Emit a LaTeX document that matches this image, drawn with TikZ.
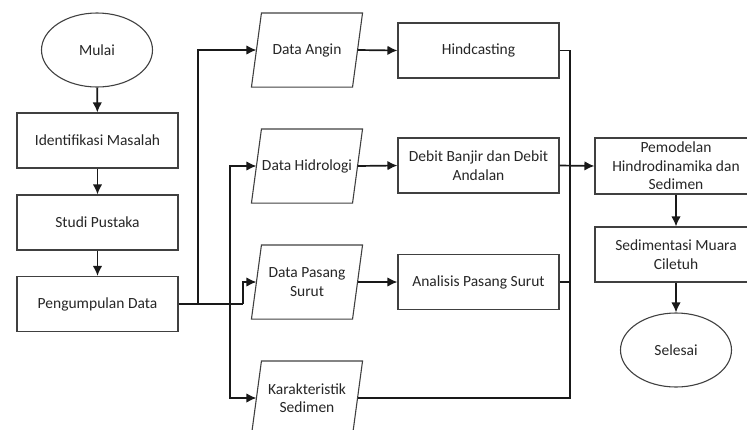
\documentclass[tikz,border=0pt]{standalone}
\usepackage{fontspec}
\setmainfont{Carlito}
\usetikzlibrary{shapes.geometric,arrows.meta}
\begin{document}
\begin{tikzpicture}[x=1pt,y=-1pt,
  base/.style={draw=black!75,line width=1.1pt,text=black!85,align=center,inner sep=2pt,
    font=\fontsize{15.5}{18.5}\selectfont},
  box/.style={base,rectangle,minimum width=161pt,minimum height=55pt},
  term/.style={base,ellipse,minimum width=111pt,minimum height=74pt},
  io/.style={base,draw=none,rectangle,minimum width=100pt,minimum height=73pt},
  outline/.style={draw=black!75,line width=1.1pt},
  conn/.style={line width=1.7pt,black!90},
  arr/.style={conn,-{Latex[length=10pt,width=9.5pt]}}]
\useasboundingbox (0,0) rectangle (747,429);
\begin{scope}
\clip (0,0) rectangle (747,429);
\node[term] (mulai) at (97,50) {Mulai};
\node[box] (im) at (97.5,140.5) {Identifikasi Masalah};
\node[box] (sp) at (97.5,222.5) {Studi Pustaka};
\node[box] (pd) at (97.5,304) {Pengumpulan Data};
\node[io] (dA) at (307,50) {Data Angin};
\node[io] (dH) at (307,166) {Data Hidrologi};
\node[io] (dP) at (307,282) {Data Pasang\\Surut};
\node[io] (dK) at (307,398) {Karakteristik\\Sedimen};
\foreach \n in {dA,dH,dP,dK}
  \draw[outline] ([xshift=5pt]\n.north west) -- ([xshift=5pt]\n.north east)
    -- ([xshift=-5pt]\n.south east) -- ([xshift=-5pt]\n.south west) -- cycle;
\node[box] (hc) at (478.5,50.5) {Hindcasting};
\node[box] (db) at (478.5,165.5) {Debit Banjir dan Debit\\Andalan};
\node[box] (ap) at (478.5,282) {Analisis Pasang Surut};
\node[box,minimum width=162pt,minimum height=56pt] (pem) at (676,166) {Pemodelan\\Hindrodinamika dan\\Sedimen};
\node[box,minimum width=162pt] (sm) at (676,254.5) {Sedimentasi Muara\\Ciletuh};
\node[term] (sel) at (676,350) {Selesai};

\coordinate (j1) at (198,304);
\coordinate (j2) at (230,304);
\coordinate (j3) at (243,304);
\coordinate (c1) at (570,50.5);
\coordinate (c2) at (570,398);

\draw[arr] (mulai) -- (im);
\draw[arr] (im) -- (sp);
\draw[arr] (sp) -- (pd);
\draw[conn] (pd.east) -- (j3);
\draw[arr] (j3) |- (dP.west);
\draw[arr] (j1) |- (dA.west);
\draw[arr] (j2) |- (dH.west);
\draw[arr] (j2) |- (dK.west);
\draw[arr] (dA.east) -- (hc.west);
\draw[arr] (dH.east) -- (db.west);
\draw[arr] (dP.east) -- (ap.west);
\draw[conn] (hc.east) -- (c1) -- (c2) -- (dK.east);
\draw[conn] (ap.east) -- (ap.east -| c1);
\draw[arr] (db.east) -- (pem.west);
\draw[arr] (pem) -- (sm);
\draw[arr] (sm) -- (sel);
\end{scope}
\end{tikzpicture}
\end{document}
